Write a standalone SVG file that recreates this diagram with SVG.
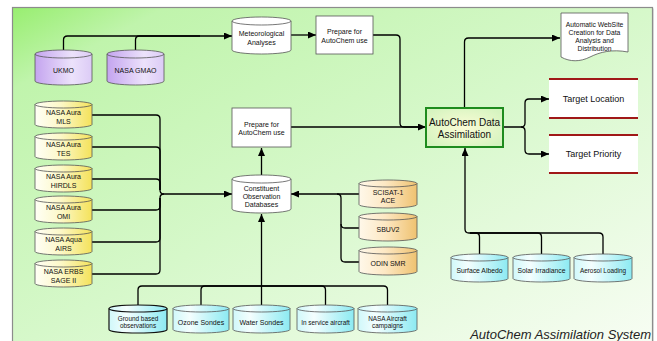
<svg xmlns="http://www.w3.org/2000/svg" width="657" height="341" viewBox="0 0 657 341">
<defs>
<linearGradient id="bg" x1="0" y1="0" x2="1" y2="1">
<stop offset="0" stop-color="#98ee70"/>
<stop offset="0.12" stop-color="#c0f4ac"/>
<stop offset="0.5" stop-color="#d6f8ca"/>
<stop offset="1" stop-color="#f8fdf4"/>
</linearGradient>
<linearGradient id="gPurple" x1="0" y1="0" x2="1" y2="0">
<stop offset="0" stop-color="#c4a4ef"/>
<stop offset="0.65" stop-color="#ece2fb"/>
<stop offset="1" stop-color="#dccbf6"/>
</linearGradient>
<linearGradient id="gYellow" x1="0" y1="0" x2="1" y2="0">
<stop offset="0" stop-color="#fffff6"/>
<stop offset="0.45" stop-color="#fcf8c8"/>
<stop offset="1" stop-color="#f4e25a"/>
</linearGradient>
<linearGradient id="gOrange" x1="0" y1="0" x2="1" y2="0">
<stop offset="0" stop-color="#fff8ea"/>
<stop offset="0.45" stop-color="#fde8c4"/>
<stop offset="1" stop-color="#efc270"/>
</linearGradient>
<linearGradient id="gCyan" x1="0" y1="0" x2="1" y2="0">
<stop offset="0" stop-color="#d0f8fa"/>
<stop offset="0.3" stop-color="#f4fefe"/>
<stop offset="1" stop-color="#8ceaf2"/>
</linearGradient>
<radialGradient id="gCore" cx="0.5" cy="0.5" r="0.6">
<stop offset="0" stop-color="#fbfcd6"/>
<stop offset="1" stop-color="#d6f4c0"/>
</radialGradient>
<marker id="arr" markerUnits="userSpaceOnUse" markerWidth="8" markerHeight="7" refX="8" refY="3.5" orient="auto">
<path d="M0,0 L8,3.5 L0,7 Z" fill="#000"/>
</marker>
</defs>
<style>
.cyl{stroke:#555;stroke-width:0.8}
.cylf{fill:none;stroke:#555;stroke-width:0.8}
.t{font-family:"Liberation Sans",Arial,sans-serif;font-size:7px;fill:#111;text-anchor:middle}
.s{font-size:6.4px}
.c{fill:none;stroke:#000;stroke-width:1.3}
.box{fill:#fff;stroke:#555;stroke-width:0.8}
.red{stroke:#a01818;stroke-width:2}
</style>
<rect x="0" y="0" width="657" height="341" fill="#fff"/>
<rect x="13.5" y="8.5" width="640" height="340" fill="#bbb"/>
<rect x="12.5" y="7.5" width="640" height="340" fill="url(#bg)" stroke="#8c8c8c" stroke-width="1.2"/>

<g id="connectors">
<path class="c" d="M63.5,50 V40 Q63.5,36 67.5,36 H232" marker-end="url(#arr)"/>
<path class="c" d="M135.5,50 V40 Q135.5,36 139.5,36 H200"/>
<path class="c" d="M291,35 H316" marker-end="url(#arr)"/>
<path class="c" d="M373,35 H396 Q400,35 400,39 V123 Q400,127 404,127 H420"/>
<path class="c" d="M291,127 H426" marker-end="url(#arr)"/>
<path class="c" d="M464.5,108 V42 Q464.5,38 468.5,38 H560" marker-end="url(#arr)"/>
<path class="c" d="M503,127 H521 Q525,127 525,123 V103 Q525,99 529,99 H549" marker-end="url(#arr)"/>
<path class="c" d="M521,127 Q525,127 525,131 V150 Q525,154 529,154 H549" marker-end="url(#arr)"/>
<path class="c" d="M479.5,254 V237 Q479.5,233 475.5,233 H469 Q465,233 465,229 V148" marker-end="url(#arr)"/>
<path class="c" d="M541.5,254 V237 Q541.5,233 537.5,233 H470"/>
<path class="c" d="M603,254 V237 Q603,233 599,233 H470"/>
<path class="c" d="M92,115 H156 Q160,115 160,119 V190 Q160,194 164,194 H232" marker-end="url(#arr)"/>
<path class="c" d="M92,147 H156 Q160,147 160,151 V190"/>
<path class="c" d="M92,179 H156 Q160,179 160,183 V190"/>
<path class="c" d="M92,210 H156 Q160,210 160,206 V198 Q160,194 164,194"/>
<path class="c" d="M92,242 H156 Q160,242 160,238 V198"/>
<path class="c" d="M92,274 H156 Q160,274 160,270 V198"/>
<path class="c" d="M359,194 H291" marker-end="url(#arr)"/>
<path class="c" d="M359,228 H345 Q341,228 341,224 V198 Q341,194 337,194"/>
<path class="c" d="M359,262 H345 Q341,262 341,258 V224"/>
<path class="c" d="M261.5,305 V214" marker-end="url(#arr)"/>
<path class="c" d="M261.5,175 V148" marker-end="url(#arr)"/>
<path class="c" d="M138,305 V290 Q138,286 142,286 H261.5"/>
<path class="c" d="M201,305 V290 Q201,286 205,286 H261.5"/>
<path class="c" d="M325.5,305 V290 Q325.5,286 321.5,286 H261.5"/>
<path class="c" d="M387.5,305 V290 Q387.5,286 383.5,286 H261.5"/>
</g>

<g id="ukmo">
<path class="cyl" fill="url(#gPurple)" d="M35,54 A28.5,4 0 0 1 92,54 V81 A28.5,4 0 0 1 35,81 Z"/>
<path class="cylf" d="M35,54 A28.5,4 0 0 0 92,54"/>
<text class="t" x="63.5" y="72.5">UKMO</text>
</g>
<g id="gmao">
<path class="cyl" fill="url(#gPurple)" d="M107,54 A28.5,4 0 0 1 164,54 V81 A28.5,4 0 0 1 107,81 Z"/>
<path class="cylf" d="M107,54 A28.5,4 0 0 0 164,54"/>
<text class="t" x="135.5" y="72.5">NASA GMAO</text>
</g>
<g id="met">
<path class="cyl" fill="#fff" d="M232,21 A29.5,4 0 0 1 291,21 V50 A29.5,4 0 0 1 232,50 Z"/>
<path class="cylf" d="M232,21 A29.5,4 0 0 0 291,21"/>
<text class="t" x="261.5" y="36">Meteorological</text>
<text class="t" x="261.5" y="45">Analyses</text>
</g>
<g id="prep1">
<rect class="box" x="316" y="16" width="57" height="38"/>
<text class="t" x="344.5" y="33.5">Prepare for</text>
<text class="t" x="344.5" y="42.5">AutoChem use</text>
</g>
<g id="prep2">
<rect class="box" x="232" y="108" width="59" height="39"/>
<text class="t" x="261.5" y="126.5">Prepare for</text>
<text class="t" x="261.5" y="135">AutoChem use</text>
</g>
<g id="constituent">
<path class="cyl" fill="#fff" d="M232,179 A29.5,4 0 0 1 291,179 V209 A29.5,4 0 0 1 232,209 Z"/>
<path class="cylf" d="M232,179 A29.5,4 0 0 0 291,179"/>
<text class="t" x="261.5" y="190.5">Constituent</text>
<text class="t" x="261.5" y="198.5">Observation</text>
<text class="t" x="261.5" y="206.5">Databases</text>
</g>
<g id="core">
<rect x="426" y="108" width="77" height="39" fill="url(#gCore)" stroke="#1e8c1e" stroke-width="2"/>
<text class="t" x="464.5" y="126" style="font-size:10px">AutoChem Data</text>
<text class="t" x="464.5" y="137.5" style="font-size:10px">Assimilation</text>
</g>
<g id="website">
<path class="box" d="M561,13 H628 V52 C612,49 600,52 590,57 C580,62 570,62 561,57 Z"/>
<text class="t" x="594.5" y="26.5" style="font-size:6.8px">Automatic WebSite</text>
<text class="t" x="594.5" y="34.5" style="font-size:6.8px">Creation for Data</text>
<text class="t" x="594.5" y="43" style="font-size:6.8px">Analysis and</text>
<text class="t" x="594.5" y="51" style="font-size:6.8px">Distribution</text>
</g>
<g id="targetLocation">
<rect x="549" y="79" width="89" height="39" fill="#fff"/>
<path class="red" d="M549,79 H638 M549,118 H638"/>
<text class="t" x="593.5" y="102" style="font-size:9px">Target Location</text>
</g>
<g id="targetPriority">
<rect x="549" y="135" width="89" height="38" fill="#fff"/>
<path class="red" d="M549,135 H638 M549,173 H638"/>
<text class="t" x="593.5" y="157" style="font-size:9px">Target Priority</text>
</g>

<g id="mls">
<path class="cyl" fill="url(#gYellow)" d="M35,104.5 A28.5,3.5 0 0 1 92,104.5 V124.5 A28.5,3.5 0 0 1 35,124.5 Z"/>
<path class="cylf" d="M35,104.5 A28.5,3.5 0 0 0 92,104.5"/>
<text class="t" x="63.5" y="114.5">NASA Aura</text>
<text class="t" x="63.5" y="123.5">MLS</text>
</g>
<g id="tes">
<path class="cyl" fill="url(#gYellow)" d="M35,136.5 A28.5,3.5 0 0 1 92,136.5 V156.5 A28.5,3.5 0 0 1 35,156.5 Z"/>
<path class="cylf" d="M35,136.5 A28.5,3.5 0 0 0 92,136.5"/>
<text class="t" x="63.5" y="146.5">NASA Aura</text>
<text class="t" x="63.5" y="155.5">TES</text>
</g>
<g id="hirdls">
<path class="cyl" fill="url(#gYellow)" d="M35,168.5 A28.5,3.5 0 0 1 92,168.5 V188.5 A28.5,3.5 0 0 1 35,188.5 Z"/>
<path class="cylf" d="M35,168.5 A28.5,3.5 0 0 0 92,168.5"/>
<text class="t" x="63.5" y="178.5">NASA Aura</text>
<text class="t" x="63.5" y="187.5">HIRDLS</text>
</g>
<g id="omi">
<path class="cyl" fill="url(#gYellow)" d="M35,199.5 A28.5,3.5 0 0 1 92,199.5 V219.5 A28.5,3.5 0 0 1 35,219.5 Z"/>
<path class="cylf" d="M35,199.5 A28.5,3.5 0 0 0 92,199.5"/>
<text class="t" x="63.5" y="209.5">NASA Aura</text>
<text class="t" x="63.5" y="218.5">OMI</text>
</g>
<g id="airs">
<path class="cyl" fill="url(#gYellow)" d="M35,231.5 A28.5,3.5 0 0 1 92,231.5 V251.5 A28.5,3.5 0 0 1 35,251.5 Z"/>
<path class="cylf" d="M35,231.5 A28.5,3.5 0 0 0 92,231.5"/>
<text class="t" x="63.5" y="241.5">NASA Aqua</text>
<text class="t" x="63.5" y="250.5">AIRS</text>
</g>
<g id="sage">
<path class="cyl" fill="url(#gYellow)" d="M35,263.5 A28.5,3.5 0 0 1 92,263.5 V283.5 A28.5,3.5 0 0 1 35,283.5 Z"/>
<path class="cylf" d="M35,263.5 A28.5,3.5 0 0 0 92,263.5"/>
<text class="t" x="63.5" y="273.5">NASA ERBS</text>
<text class="t" x="63.5" y="282.5">SAGE II</text>
</g>

<g id="scisat">
<path class="cyl" fill="url(#gOrange)" d="M359,183.5 A29,3.5 0 0 1 417,183.5 V204.5 A29,3.5 0 0 1 359,204.5 Z"/>
<path class="cylf" d="M359,183.5 A29,3.5 0 0 0 417,183.5"/>
<text class="t" x="388" y="194.5">SCISAT-1</text>
<text class="t" x="388" y="202.5">ACE</text>
</g>
<g id="sbuv2">
<path class="cyl" fill="url(#gOrange)" d="M359,216.5 A29,3.5 0 0 1 417,216.5 V237.5 A29,3.5 0 0 1 359,237.5 Z"/>
<path class="cylf" d="M359,216.5 A29,3.5 0 0 0 417,216.5"/>
<text class="t" x="388" y="231.5">SBUV2</text>
</g>
<g id="odin">
<path class="cyl" fill="url(#gOrange)" d="M359,250.5 A29,3.5 0 0 1 417,250.5 V271.5 A29,3.5 0 0 1 359,271.5 Z"/>
<path class="cylf" d="M359,250.5 A29,3.5 0 0 0 417,250.5"/>
<text class="t" x="388" y="265.5">ODIN SMR</text>
</g>

<g id="albedo">
<path class="cyl" fill="url(#gCyan)" d="M451,257.5 A28.5,3.5 0 0 1 508,257.5 V278.5 A28.5,3.5 0 0 1 451,278.5 Z"/>
<path class="cylf" d="M451,257.5 A28.5,3.5 0 0 0 508,257.5"/>
<text class="t" x="479.5" y="272.5" style="font-size:6.8px">Surface Albedo</text>
</g>
<g id="solar">
<path class="cyl" fill="url(#gCyan)" d="M513,257.5 A28.5,3.5 0 0 1 570,257.5 V278.5 A28.5,3.5 0 0 1 513,278.5 Z"/>
<path class="cylf" d="M513,257.5 A28.5,3.5 0 0 0 570,257.5"/>
<text class="t" x="541.5" y="272.5" style="font-size:6.8px">Solar Irradiance</text>
</g>
<g id="aerosol">
<path class="cyl" fill="url(#gCyan)" d="M574,257.5 A29,3.5 0 0 1 632,257.5 V278.5 A29,3.5 0 0 1 574,278.5 Z"/>
<path class="cylf" d="M574,257.5 A29,3.5 0 0 0 632,257.5"/>
<text class="t s" x="603" y="272.5">Aerosol Loading</text>
</g>

<g id="ground">
<path fill="url(#gCyan)" stroke="#111" stroke-width="1.2" d="M109,308.5 A29,3.5 0 0 1 167,308.5 V329.5 A29,3.5 0 0 1 109,329.5 Z"/>
<path fill="none" stroke="#111" stroke-width="1.2" d="M109,308.5 A29,3.5 0 0 0 167,308.5"/>
<text class="t s" x="138" y="320.5">Ground based</text>
<text class="t s" x="138" y="328">observations</text>
</g>
<g id="ozone">
<path class="cyl" fill="url(#gCyan)" d="M173,308.5 A28,3.5 0 0 1 229,308.5 V329.5 A28,3.5 0 0 1 173,329.5 Z"/>
<path class="cylf" d="M173,308.5 A28,3.5 0 0 0 229,308.5"/>
<text class="t" x="201" y="324.5">Ozone Sondes</text>
</g>
<g id="water">
<path class="cyl" fill="url(#gCyan)" d="M233,308.5 A28.5,3.5 0 0 1 290,308.5 V329.5 A28.5,3.5 0 0 1 233,329.5 Z"/>
<path class="cylf" d="M233,308.5 A28.5,3.5 0 0 0 290,308.5"/>
<text class="t" x="261.5" y="324.5">Water Sondes</text>
</g>
<g id="inservice">
<path class="cyl" fill="url(#gCyan)" d="M297,308.5 A28.5,3.5 0 0 1 354,308.5 V329.5 A28.5,3.5 0 0 1 297,329.5 Z"/>
<path class="cylf" d="M297,308.5 A28.5,3.5 0 0 0 354,308.5"/>
<text class="t s" x="325.5" y="324.5">In service aircraft</text>
</g>
<g id="nasaAircraft">
<path class="cyl" fill="url(#gCyan)" d="M358,308.5 A29.5,3.5 0 0 1 417,308.5 V329.5 A29.5,3.5 0 0 1 358,329.5 Z"/>
<path class="cylf" d="M358,308.5 A29.5,3.5 0 0 0 417,308.5"/>
<text class="t s" x="387.5" y="320.5">NASA Aircraft</text>
<text class="t s" x="387.5" y="328">campaigns</text>
</g>

<text x="651" y="338.5" style="font-family:'Liberation Sans',Arial,sans-serif;font-size:13px;font-style:italic;fill:#222;text-anchor:end">AutoChem Assimilation System</text>
</svg>
